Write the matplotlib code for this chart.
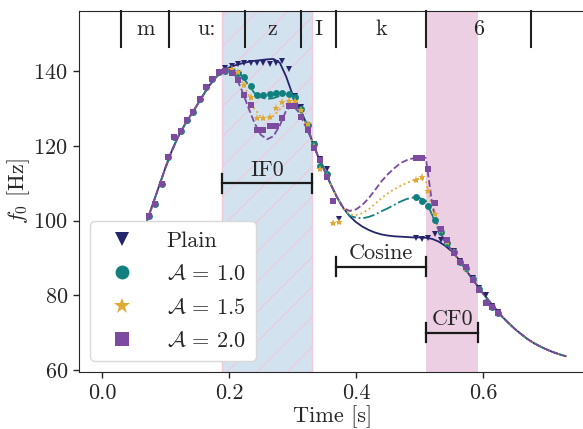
import numpy as np
import matplotlib
matplotlib.use("Agg")
import matplotlib.pyplot as plt
from matplotlib.lines import Line2D

plt.rcParams.update({
    "font.family": "serif",
    "font.serif": ["cmr10"],
    "mathtext.fontset": "cm",
    "axes.formatter.use_mathtext": True,
    "axes.unicode_minus": False,
    "font.size": 16,
    "text.color": "0.15",
    "axes.labelcolor": "0.15",
    "xtick.color": "0.15",
    "ytick.color": "0.15",
    "axes.edgecolor": "0.15",
})

# ---------------- data ----------------
t_line = np.round(np.arange(0.07, 0.7351, 0.01), 3)

f_plain = [99.5, 104.4, 109.3, 114.2, 118.7, 122.5, 125.6, 128.3, 131.0, 133.8, 136.4, 138.5, 140.1,
           141.0, 141.6, 142.1, 142.5, 142.8, 143.0, 143.2, 143.3, 142.3, 138.6, 133.8, 130.4, 126.8, 121.8,
           117.3, 113.6, 109.8, 106.3, 103.4, 101.2, 99.6, 98.4, 97.5, 96.8, 96.3, 96.0, 95.8, 95.7, 95.6,
           95.5, 95.5, 95.4, 95.1, 94.4, 93.3, 91.9,
           90.0, 87.6, 85.1, 82.8, 80.5, 78.4, 76.3, 74.3, 72.6, 71.0, 69.6, 68.3, 67.2, 66.3, 65.5, 64.8, 64.2, 63.7]

f_a10 = [99.5, 104.4, 109.3, 114.2, 118.7, 122.5, 125.6, 128.3, 131.0, 133.8, 136.4, 138.5, 140.1,
         140.7, 140.3, 138.8, 136.5, 134.2, 133.0, 132.6, 132.8, 133.4, 133.8, 133.3, 130.3, 126.8, 121.8,
         117.3, 113.6, 109.8, 106.3, 103.3, 101.3, 100.8, 100.6, 101.0, 101.6, 102.5, 103.3, 104.2, 105.1, 105.8,
         106.2, 106.1, 105.3, 101.5, 97.5, 94.4, 92.2,
         90.0, 87.6, 85.1, 82.8, 80.5, 78.4, 76.3, 74.3, 72.6, 71.0, 69.6, 68.3, 67.2, 66.3, 65.5, 64.8, 64.2, 63.7]

f_a15 = [99.5, 104.4, 109.3, 114.2, 118.7, 122.5, 125.6, 128.3, 131.0, 133.8, 136.4, 138.5, 140.1,
         140.7, 139.5, 137.3, 134.0, 130.0, 127.8, 127.3, 128.0, 129.8, 131.2, 131.5, 129.8, 126.3, 121.8,
         117.3, 113.6, 109.8, 106.3, 103.4, 101.6, 101.5, 102.0, 103.0, 104.5, 106.0, 107.3, 108.4, 109.3, 110.1,
         110.8, 111.3, 110.5, 103.5, 97.8, 94.5, 92.2,
         90.0, 87.6, 85.1, 82.8, 80.5, 78.4, 76.3, 74.3, 72.6, 71.0, 69.6, 68.3, 67.2, 66.3, 65.5, 64.8, 64.2, 63.7]

f_a20 = [99.5, 104.4, 109.3, 114.2, 118.7, 122.5, 125.6, 128.3, 131.0, 133.8, 136.4, 138.5, 140.1,
         140.5, 138.8, 135.0, 130.5, 126.2, 123.0, 121.8, 122.6, 125.5, 129.5, 131.0, 129.0, 125.5, 121.8,
         117.3, 113.6, 109.8, 106.3, 103.4, 102.6, 103.0, 104.2, 106.0, 108.2, 110.5, 112.4, 114.0, 115.4, 116.2,
         116.7, 117.0, 116.8, 104.5, 97.5, 94.5, 92.2,
         90.0, 87.6, 85.1, 82.8, 80.5, 78.4, 76.3, 74.3, 72.6, 71.0, 69.6, 68.3, 67.2, 66.3, 65.5, 64.8, 64.2, 63.7]

t_obs = np.round(np.concatenate([np.arange(0.074, 0.3745, 0.01), np.arange(0.494, 0.6245, 0.01)]), 3)

nan = float("nan")
obs_plain = [101.3, 104.5, 109.7, 117.0, 122.3, 123.9, 126.9, 129.1, 132.7, 135.7, 138.0, 139.8, 141.0,
             141.5, 141.9, 142.1, 142.1, 142.1, 142.1, 141.9, 142.1, 142.8, 140.7, 133.5, 130.5, 125.3, 120.5,
             116.5, 113.7, nan, 100.4,
             95.3, 95.2, 95.3, 96.5, 94.8, 93.5, 91.8, 89.3, 87.2, 84.6, 82.0, 80.2, 77.2, 75.5]
obs_a10 = [101.3, 104.5, 109.7, 117.0, 122.3, 123.9, 126.9, 129.1, 132.7, 135.7, 138.0, 139.8, 140.2,
           140.2, 139.6, 138.6, 136.1, 133.6, 133.6, 133.9, 134.1, 134.3, 133.8, 133.2, 130.0, 125.5, 120.5,
           114.6, 112.5, nan, nan,
           106.3, 105.3, 103.9, 100.2, 97.0, 94.0, 91.6, 89.0, 87.3, 84.3, 81.6, 78.2, 76.8, 75.2]
obs_a15 = [101.3, 104.5, 109.7, 117.0, 122.3, 123.9, 126.9, 129.1, 132.7, 135.7, 138.0, 139.8, 140.2,
           140.5, 139.8, 136.3, 133.2, 127.4, 127.6, 127.8, 130.2, 131.9, 132.0, 132.0, 129.6, 126.0, 120.0,
           113.7, 112.0, 99.3, 99.7,
           110.9, 111.6, 107.9, 101.7, 97.5, 94.2, 91.5, 89.0, 87.4, 84.2, 81.5, 78.0, 76.8, 75.2]
obs_a20 = [101.3, 104.5, 109.7, 117.0, 122.3, 123.9, 126.9, 129.1, 132.7, 135.7, 138.0, 139.8, 140.2,
           139.6, 137.7, 133.6, 131.0, 124.3, 124.3, 125.3, 125.3, 127.4, 130.7, 130.7, 127.7, 124.3, 119.5,
           116.2, 111.8, 105.3, nan,
           116.7, 116.7, 113.7, 104.6, 97.7, 94.8, 91.4, 89.0, 87.5, 84.1, 81.4, 77.8, 76.8, 75.2]

series_labels = ["Plain", r"$\mathcal{A}\,=\,1.0$", r"$\mathcal{A}\,=\,1.5$", r"$\mathcal{A}\,=\,2.0$"]

phone_bounds = [0.030, 0.106, 0.225, 0.313, 0.368, 0.511, 0.676]
phone_labels = ["m", "u:", "z", "I", "k", "6"]

if0_span = (0.189, 0.331)
cf0_span = (0.511, 0.592)
cos_span = (0.368, 0.511)

# ---------------- figure ----------------
W, H = 583, 429
fig = plt.figure(figsize=(W / 100, H / 100), dpi=100)
ax = fig.add_axes([79 / W, 1 - 372 / H, (586 - 79) / W, (372 - 11) / H])
ax.set_xlim(-0.0362, 0.7622)
ax.set_ylim(59.45, 156.15)

blue = ax.axvspan(*if0_span, facecolor="#d2e3ef", edgecolor="#f0c8de", lw=1.0, zorder=0)
ax.axvspan(*cf0_span, facecolor="#edcfe3", edgecolor="none", zorder=0)

# light diagonal hatch on IF0 region
for x0 in np.arange(-4.0, 6.5, 0.3):
    hl = Line2D([x0, x0 + 4.5], [0.0, 4.5], transform=fig.dpi_scale_trans,
                color="#f0c6dd", lw=0.8, zorder=0.5)
    ax.add_artist(hl)
    hl.set_clip_path(blue)

colors = ["#25256e", "#138080", "#e0a935", "#7c4a9e"]
styles = ["-", "-.", ":", "--"]
markers = ["v", "o", "*", "s"]
msizes = [5.0, 5.0, 6.0, 5.0]
lines = [f_plain, f_a10, f_a15, f_a20]
obs = [obs_plain, obs_a10, obs_a15, obs_a20]

for i in range(4):
    ax.plot(t_line, lines[i], color=colors[i], ls=styles[i], lw=1.3, zorder=2)
    ax.plot(t_obs, obs[i], ls="none", marker=markers[i], ms=msizes[i], color=colors[i],
            mew=0, zorder=3, label=series_labels[i])

# phoneme tier
tier_bottom = 146.6
for b in phone_bounds:
    ax.plot([b, b], [tier_bottom, 156.15], color="0.12", lw=1.5, zorder=4, clip_on=False)
for i, lab in enumerate(phone_labels):
    ax.text((phone_bounds[i] + phone_bounds[i + 1]) / 2, 151.2, lab, ha="center", va="center",
            fontsize=16, zorder=5)

# brackets
def bracket(x0, x1, y, text):
    ax.plot([x0, x1], [y, y], color="0.1", lw=1.6, zorder=4)
    ax.plot([x0, x0], [y - 2.5, y + 2.5], color="0.1", lw=1.6, zorder=4)
    ax.plot([x1, x1], [y - 2.5, y + 2.5], color="0.1", lw=1.6, zorder=4)
    ax.text((x0 + x1) / 2, y + 0.9, text, ha="center", va="bottom", fontsize=16, zorder=5)

bracket(*if0_span, 110.0, "IF0")
bracket(*cos_span, 87.7, "Cosine")
bracket(*cf0_span, 70.0, "CF0")

ax.set_xticks([0.0, 0.2, 0.4, 0.6])
ax.set_xticklabels(["0.0", "0.2", "0.4", "0.6"])
ax.set_yticks([60, 80, 100, 120, 140])
ax.set_xlabel("Time [s]", labelpad=2)
ax.set_ylabel(r"$f_0$ [Hz]")
ax.yaxis.set_label_coords(-0.092, 0.5)
ax.tick_params(direction="out", length=4.5, width=1.0, labelsize=16)

leg = ax.legend(loc="lower left", markerscale=2.0, frameon=True, fancybox=True,
                framealpha=1.0, edgecolor="0.85", handletextpad=1.0, borderaxespad=0.5,
                labelspacing=0.62, borderpad=0.45)
leg.set_zorder(10)
leg.get_frame().set_linewidth(1.0)

fig.savefig("out.png", dpi=100)
